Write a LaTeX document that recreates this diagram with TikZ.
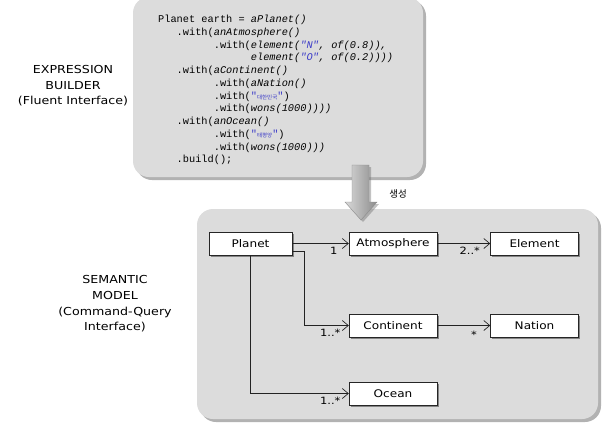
\documentclass[tikz,border=0pt]{standalone}
\usepackage{fontspec}
\setmainfont{DejaVu Sans}
\setmonofont{Liberation Mono}
\newfontfamily\cjk{Noto Sans CJK KR}
\newfontfamily\handfont[FakeStretch=1.15]{DejaVu Sans}
\usetikzlibrary{arrows.meta, positioning, shadows}
\definecolor{panelgray}{RGB}{220, 220, 220}
\definecolor{codeblue}{RGB}{60, 60, 200}
\definecolor{linegray}{RGB}{35, 35, 35}

\tikzset{
  panel/.style={fill=panelgray, rounded corners=16pt, inner sep=0pt,
    drop shadow={shadow xshift=3pt, shadow yshift=-3pt, fill=black!60, opacity=0.5}},
  classbox/.style={draw=black!85, fill=white, minimum width=88pt, minimum height=23pt, inner sep=0pt,
    font=\handfont\fontsize{10.5}{12}\selectfont,
    drop shadow={shadow xshift=1.5pt, shadow yshift=-1.5pt, fill=black!70, opacity=0.6}},
  assoc/.style={draw=linegray, line width=0.7pt, -{Straight Barb[length=6pt, width=10pt]}},
  mult/.style={font=\handfont\fontsize{10}{11}\selectfont, inner sep=1pt},
  heading/.style={align=center, font=\handfont\fontsize{11}{15.6}\selectfont},
  codebox/.style={align=left, inner sep=0pt, font=\ttfamily\fontsize{10.3}{12.75}\selectfont},
}
\newcommand{\kstr}[1]{\textcolor{codeblue}{"{\cjk\fontsize{5.5}{6}\selectfont #1}"}}

\begin{document}
\begin{tikzpicture}[x=1pt, y=-1pt]
  \useasboundingbox (0,0) rectangle (613,432);

  % Panels
  \node[panel, minimum width=290pt, minimum height=180pt] (builderpanel) at (278,87) {};
  \node[panel, minimum width=401pt, minimum height=210pt] (modelpanel) at (397.5,314) {};

  % Headings
  \node[heading] (builderlabel) at (73,86) {EXPRESSION\\BUILDER\\(Fluent Interface)};
  \node[heading] (modellabel) at (115,304) {SEMANTIC\\MODEL\\(Command-Query\\Interface)};

  % Fluent code
  \node[codebox, anchor=north west] (code) at (158,15) {%
    Planet earth = \textit{aPlanet()}\\
    ~~~.with(\textit{anAtmosphere()}\\
    ~~~~~~~~~.with(\textit{element(\textcolor{codeblue}{"N"}, of(0.8)),}\\
    ~~~~~~~~~~~~~~~\textit{element(\textcolor{codeblue}{"O"}, of(0.2))))}\\
    ~~~.with(\textit{aContinent()}\\
    ~~~~~~~~~.with(\textit{aNation()}\\
    ~~~~~~~~~.with(\kstr{대한민국})\\
    ~~~~~~~~~.with(\textit{wons(1000))))}\\
    ~~~.with(\textit{anOcean()}\\
    ~~~~~~~~~.with(\kstr{태평양})\\
    ~~~~~~~~~.with(\textit{wons(1000)))}\\
    ~~~.build();};

  % Block arrow
  \draw[black!45, line width=0.4pt, left color=black!15, right color=black!45,
    drop shadow={shadow xshift=2pt, shadow yshift=-2pt, fill=black!60, opacity=0.4}]
    (352,165) -- (369,165) -- (369,202) -- (377,202) -- (361,220) -- (345,202) -- (352,202) -- cycle;
  \node[font=\cjk\fontsize{9.5}{10}\selectfont] (genlabel) at (398,194) {생성};

  % Classes
  \node[classbox, minimum width=83pt] (planet) at (250.5,243.5) {Planet};
  \node[classbox] (atmos) at (393,243.5) {Atmosphere};
  \node[classbox] (element) at (534.5,243.5) {Element};
  \node[classbox] (cont) at (393,325.5) {Continent};
  \node[classbox] (nation) at (534.5,325.5) {Nation};
  \node[classbox] (ocean) at (393,393.5) {Ocean};

  % Associations
  \draw[assoc] (planet.east) -- (atmos.west) node[mult, at end, below left, xshift=-10pt, yshift=-2pt] {1};
  \draw[assoc] (atmos.east) -- (element.west) node[mult, at end, below left, xshift=-9pt, yshift=-2pt] {2..*};
  \draw[assoc] ([yshift=-8pt]planet.east) -- ++(12,0) |- (cont.west)
    node[mult, at end, below left, xshift=-7pt, yshift=-2pt] {1..*};
  \draw[assoc] (cont.east) -- (nation.west) node[mult, at end, below left, xshift=-12pt, yshift=-4pt] {*};
  \draw[assoc] (planet.south) |- (ocean.west) node[mult, at end, below left, xshift=-7pt, yshift=-2pt] {1..*};
\end{tikzpicture}
\end{document}
